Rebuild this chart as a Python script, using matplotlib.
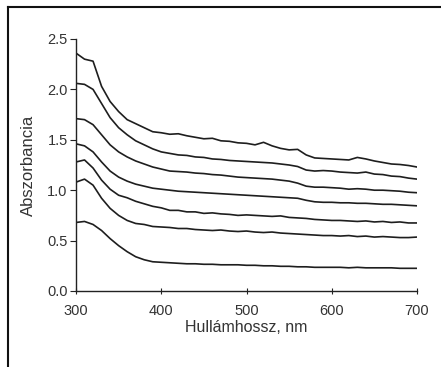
import matplotlib
matplotlib.use("Agg")
import matplotlib.pyplot as plt
from matplotlib.lines import Line2D

wavelength = list(range(300, 701, 10))

curve1 = [2.36, 2.30, 2.28, 2.03, 1.88, 1.78, 1.70, 1.66, 1.62, 1.58,
          1.57, 1.555, 1.56, 1.54, 1.525, 1.51, 1.515, 1.49, 1.485, 1.47,
          1.465, 1.45, 1.475, 1.44, 1.415, 1.40, 1.405, 1.35, 1.32, 1.315,
          1.31, 1.305, 1.30, 1.325, 1.31, 1.29, 1.275, 1.26, 1.255, 1.245, 1.23]
curve2 = [2.06, 2.05, 2.00, 1.86, 1.72, 1.62, 1.55, 1.49, 1.45, 1.41,
          1.38, 1.365, 1.35, 1.345, 1.33, 1.325, 1.31, 1.305, 1.295, 1.29,
          1.285, 1.28, 1.275, 1.27, 1.26, 1.25, 1.235, 1.20, 1.19, 1.195,
          1.19, 1.18, 1.175, 1.17, 1.18, 1.16, 1.155, 1.14, 1.135, 1.12, 1.11]
curve3 = [1.71, 1.70, 1.65, 1.55, 1.45, 1.38, 1.33, 1.29, 1.26, 1.23,
          1.21, 1.19, 1.185, 1.18, 1.17, 1.165, 1.155, 1.15, 1.14, 1.13,
          1.125, 1.12, 1.115, 1.11, 1.10, 1.09, 1.07, 1.04, 1.03, 1.03,
          1.025, 1.02, 1.01, 1.015, 1.01, 1.00, 1.00, 0.995, 0.99, 0.98, 0.975]
curve4 = [1.46, 1.44, 1.38, 1.28, 1.19, 1.13, 1.09, 1.06, 1.04, 1.02,
          1.01, 1.00, 0.99, 0.985, 0.98, 0.975, 0.97, 0.965, 0.96, 0.955,
          0.95, 0.945, 0.94, 0.935, 0.93, 0.925, 0.92, 0.90, 0.885, 0.88,
          0.88, 0.875, 0.875, 0.87, 0.87, 0.865, 0.86, 0.86, 0.855, 0.85, 0.845]
curve5 = [1.28, 1.30, 1.22, 1.10, 1.01, 0.95, 0.925, 0.89, 0.865, 0.84,
          0.825, 0.80, 0.80, 0.785, 0.785, 0.77, 0.775, 0.765, 0.76, 0.75,
          0.755, 0.75, 0.745, 0.74, 0.745, 0.73, 0.725, 0.72, 0.71, 0.705,
          0.70, 0.70, 0.695, 0.69, 0.695, 0.685, 0.69, 0.68, 0.685, 0.675, 0.675]
curve6 = [1.08, 1.11, 1.05, 0.92, 0.82, 0.75, 0.70, 0.67, 0.66, 0.64,
          0.635, 0.63, 0.62, 0.62, 0.61, 0.605, 0.60, 0.605, 0.595, 0.59,
          0.595, 0.585, 0.58, 0.585, 0.575, 0.57, 0.565, 0.56, 0.555, 0.55,
          0.55, 0.545, 0.55, 0.54, 0.545, 0.535, 0.54, 0.535, 0.53, 0.53, 0.535]
curve7 = [0.68, 0.69, 0.66, 0.60, 0.52, 0.45, 0.39, 0.34, 0.31, 0.29,
          0.285, 0.28, 0.275, 0.27, 0.27, 0.265, 0.265, 0.26, 0.26, 0.26,
          0.255, 0.255, 0.25, 0.25, 0.245, 0.245, 0.24, 0.24, 0.235, 0.235,
          0.235, 0.235, 0.23, 0.235, 0.23, 0.23, 0.23, 0.23, 0.225, 0.225, 0.225]

curves = [curve1, curve2, curve3, curve4, curve5, curve6, curve7]
xticks = [300, 400, 500, 600, 700]
yticks = [0.0, 0.5, 1.0, 1.5, 2.0, 2.5]
xlabel = "Hullámhossz, nm"
ylabel = "Abszorbancia"

plt.rcParams['font.family'] = ['Liberation Sans', 'DejaVu Sans']

fig = plt.figure(figsize=(4.41, 3.67), dpi=100)
ax = fig.add_axes([76/441, 1 - 291/367, (417-76)/441, (291-39)/367])

for c in curves:
    ax.plot(wavelength, c, color='#1e1e1e', lw=1.2)

ax.set_xlim(300, 700)
ax.set_ylim(0, 2.5)
ax.set_xticks(xticks)
ax.set_yticks(yticks)
ax.set_yticklabels([f"{v:.1f}" for v in yticks])
for s in ['top', 'right']:
    ax.spines[s].set_visible(False)
for s in ['left', 'bottom']:
    ax.spines[s].set_color('#222222')
    ax.spines[s].set_linewidth(1.0)
ax.tick_params(axis='both', direction='out', length=4, width=0.8,
               colors='#222222', labelcolor='#333333', labelsize=10.5, pad=2)
ax.tick_params(axis='x', direction='inout', length=5, pad=7)
ax.set_xlabel(xlabel, fontsize=11.5, color='#333333', labelpad=1)
ax.set_ylabel(ylabel, fontsize=12, color='#333333', labelpad=8)

# outer frame
fig.add_artist(Line2D([8/441, 8/441], [0, 1 - 7/367], transform=fig.transFigure, color='#111111', lw=1.5))
fig.add_artist(Line2D([8/441, 1], [1 - 7/367, 1 - 7/367], transform=fig.transFigure, color='#111111', lw=1.5))

fig.savefig("out.png", dpi=100)
